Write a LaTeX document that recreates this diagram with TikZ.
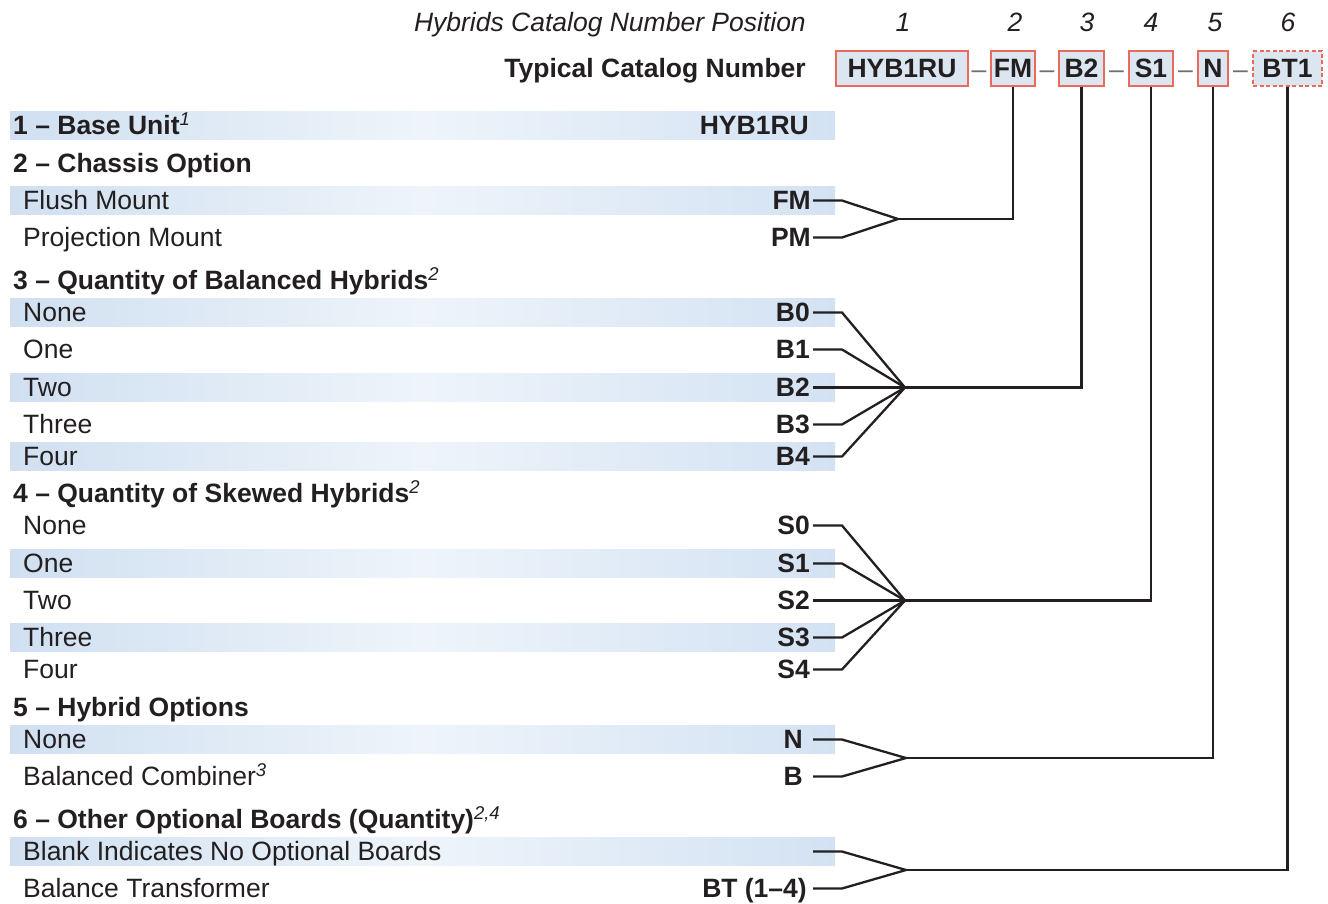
\documentclass[tikz,border=0pt]{standalone}
\usepackage{fontspec}
\setmainfont{Liberation Sans}
\definecolor{ink}{HTML}{231F20}
\definecolor{bandL}{HTML}{D0E0F1}
\definecolor{bandM}{HTML}{EEF4FA}
\definecolor{bandR}{HTML}{D3E2F3}
\definecolor{boxred}{HTML}{EA6B5C}
\definecolor{boxfill}{HTML}{DCE6F1}
\definecolor{dashgray}{HTML}{6D6E71}
\newcommand{\supit}[1]{{\fontsize{18.5}{18.5}\normalfont\itshape\raisebox{9.5pt}{#1}}}
\tikzset{
  txt/.style={font=\fontsize{26.5}{30}\selectfont, text=ink, inner sep=0pt},
  item/.style={txt, anchor=base west},
  head/.style={txt, font=\fontsize{26.5}{30}\selectfont\bfseries, anchor=base west},
  code/.style={txt, font=\fontsize{26.5}{30}\selectfont\bfseries, anchor=base east},
  band/.style={left color=bandL, right color=bandR, middle color=bandM},
  wire/.style={draw=ink, line width=2.3pt},
  cbox/.style={txt, font=\fontsize{26.5}{30}\selectfont\bfseries, draw=boxred, line width=2.2pt, fill=boxfill, minimum height=35pt, anchor=center},
  sep/.style={txt, text=dashgray, anchor=base},
  posn/.style={txt, font=\fontsize{26.5}{30}\selectfont\itshape, anchor=base}
}
\begin{document}
\begin{tikzpicture}[x=1pt,y=-1pt]
\useasboundingbox (0,0) rectangle (1328,903);
% bands
\foreach \y in {125,200,312,387,456,563,637,739,851}
  \shade[band] (10,\y-14) rectangle (835,\y+14);
% header
\node[posn, anchor=base east] (hdr) at (806,31.5) {Hybrids Catalog Number Position};
\node[head, anchor=base east] (typ) at (806,77.5) {Typical Catalog Number};
\node[posn] (p1) at (903,31.5) {1};
\node[posn] (p2) at (1015,31.5) {2};
\node[posn] (p3) at (1087,31.5) {3};
\node[posn] (p4) at (1151,31.5) {4};
\node[posn] (p5) at (1215,31.5) {5};
\node[posn] (p6) at (1288,31.5) {6};
\node[cbox, minimum width=132pt] (b-base) at (902,68.5) {HYB1RU};
\node[cbox, minimum width=44pt] (b-fm) at (1013,68.5) {FM};
\node[cbox, minimum width=45pt] (b-b) at (1081.5,68.5) {B2};
\node[cbox, minimum width=44pt] (b-s) at (1151,68.5) {S1};
\node[cbox, minimum width=30pt] (b-n) at (1213,68.5) {N};
\node[cbox, minimum width=69pt, dash pattern=on 4pt off 2.5pt] (b-bt) at (1287.5,68.5) {BT1};
\node[sep] (d1) at (979,78) {–};
\node[sep] (d2) at (1047,78) {–};
\node[sep] (d3) at (1116.5,78) {–};
\node[sep] (d4) at (1185.5,78) {–};
\node[sep] (d5) at (1240.5,78) {–};
% section 1
\node[head] (h1) at (13,134.5) {1 – Base Unit\supit{1}};
\node[code] (c-base) at (809,134.5) {HYB1RU};
% section 2
\node[head] (h2) at (13,172.5) {2 – Chassis Option};
\node[item] (i-fm) at (23,209.5) {Flush Mount};
\node[code] (c-fm) at (811,209.5) {FM};
\node[item] (i-pm) at (23,246.5) {Projection Mount};
\node[code] (c-pm) at (811,246.5) {PM};
% section 3
\node[head] (h3) at (13,289.5) {3 – Quantity of Balanced Hybrids\supit{2}};
\node[item] (i-b0) at (23,321.5) {None};
\node[code] (c-b0) at (810,321.5) {B0};
\node[item] (i-b1) at (23,358.5) {One};
\node[code] (c-b1) at (810,358.5) {B1};
\node[item] (i-b2) at (23,396.5) {Two};
\node[code] (c-b2) at (810,396.5) {B2};
\node[item] (i-b3) at (23,433.5) {Three};
\node[code] (c-b3) at (810,433.5) {B3};
\node[item] (i-b4) at (23,465.5) {Four};
\node[code] (c-b4) at (810,465.5) {B4};
% section 4
\node[head] (h4) at (13,502.5) {4 – Quantity of Skewed Hybrids\supit{2}};
\node[item] (i-s0) at (23,534.5) {None};
\node[code] (c-s0) at (810,534.5) {S0};
\node[item] (i-s1) at (23,572.5) {One};
\node[code] (c-s1) at (810,572.5) {S1};
\node[item] (i-s2) at (23,609.5) {Two};
\node[code] (c-s2) at (810,609.5) {S2};
\node[item] (i-s3) at (23,646.5) {Three};
\node[code] (c-s3) at (810,646.5) {S3};
\node[item] (i-s4) at (23,678.5) {Four};
\node[code] (c-s4) at (810,678.5) {S4};
% section 5
\node[head] (h5) at (13,716.5) {5 – Hybrid Options};
\node[item] (i-n) at (23,748.5) {None};
\node[code] (c-n) at (803,748.5) {N};
\node[item] (i-bc) at (23,785.5) {Balanced Combiner\supit{3}};
\node[code] (c-bc) at (803,785.5) {B};
% section 6
\node[head] (h6) at (13,828.5) {6 – Other Optional Boards (Quantity)\supit{2,4}};
\node[item] (i-blank) at (23,860.5) {Blank Indicates No Optional Boards};
\node[code] (c-blank) at (810,860.5) {};
\node[item] (i-bt) at (23,897.5) {Balance Transformer};
\node[code] (c-bt) at (807,897.5) {BT (1–4)};
% junctions
\coordinate (sx) at (813,0);
\coordinate (ex) at (842,0);
\coordinate (j-fm) at (898,219);
\coordinate (j-b) at (905,387.5);
\coordinate (j-s) at (905,600.5);
\coordinate (j-n) at (906,758);
\coordinate (j-bt) at (906,870);
% connectors
\foreach \c/\j in {c-fm/j-fm, c-pm/j-fm, c-b0/j-b, c-b1/j-b, c-b2/j-b, c-b3/j-b, c-b4/j-b,
                   c-s0/j-s, c-s1/j-s, c-s2/j-s, c-s3/j-s, c-s4/j-s, c-n/j-n, c-bc/j-n,
                   c-blank/j-bt, c-bt/j-bt}
  \draw[wire] ([yshift=9pt]\c.base east -| sx) -- ([yshift=9pt]\c.base east -| ex) -- (\j);
\draw[wire] (j-fm) -| (b-fm.south);
\draw[wire] (j-b) -| (b-b.south);
\draw[wire] (j-s) -| (b-s.south);
\draw[wire] (j-n) -| (b-n.south);
\draw[wire] (j-bt) -| (b-bt.south);
\end{tikzpicture}
\end{document}
